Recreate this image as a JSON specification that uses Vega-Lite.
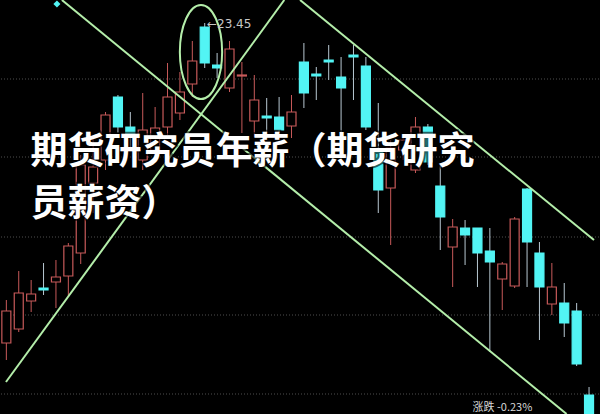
{
  "$schema": "https://vega.github.io/schema/vega-lite/v6.json",
  "width": 600,
  "height": 414,
  "autosize": {"type": "fit", "contains": "padding"},
  "padding": 0,
  "background": "#000000",
  "config": {"view": {"stroke": null}},
  "datasets": {
    "candles": [
      {"k": -1, "o": 17.05, "c": 17.69, "h": 17.91, "l": 16.71},
      {"k": 0, "o": 17.33, "c": 18.05, "h": 18.49, "l": 17.27},
      {"k": 1, "o": 17.89, "c": 18.03, "h": 18.31, "l": 17.67},
      {"k": 2, "o": 18.15, "c": 18.11, "h": 18.65, "l": 18.01},
      {"k": 3, "o": 18.27, "c": 18.37, "h": 18.71, "l": 17.75},
      {"k": 4, "o": 18.39, "c": 18.99, "h": 19.05, "l": 17.97},
      {"k": 5, "o": 18.85, "c": 20.61, "h": 20.81, "l": 18.63},
      {"k": 6, "o": 20.25, "c": 20.57, "h": 21.21, "l": 19.65},
      {"k": 7, "o": 20.71, "c": 21.61, "h": 21.67, "l": 20.51},
      {"k": 8, "o": 21.97, "c": 21.37, "h": 22.01, "l": 21.25},
      {"k": 9, "o": 21.37, "c": 21.17, "h": 21.67, "l": 20.91},
      {"k": 10, "o": 20.71, "c": 21.31, "h": 22.05, "l": 20.51},
      {"k": 11, "o": 20.91, "c": 21.35, "h": 21.77, "l": 20.71},
      {"k": 12, "o": 21.37, "c": 21.97, "h": 22.65, "l": 21.21},
      {"k": 13, "o": 21.65, "c": 22.07, "h": 22.47, "l": 21.51},
      {"k": 14, "o": 22.23, "c": 22.69, "h": 23.09, "l": 21.97},
      {"k": 15, "o": 23.37, "c": 22.65, "h": 23.45, "l": 22.55},
      {"k": 16, "o": 22.61, "c": 22.55, "h": 22.85, "l": 22.35},
      {"k": 17, "o": 22.15, "c": 22.93, "h": 23.09, "l": 22.07},
      {"k": 18, "o": 22.39, "c": 22.41, "h": 22.67, "l": 21.25},
      {"k": 19, "o": 21.49, "c": 21.91, "h": 22.41, "l": 21.17},
      {"k": 20, "o": 21.59, "c": 21.55, "h": 21.95, "l": 21.17},
      {"k": 21, "o": 21.57, "c": 21.31, "h": 21.97, "l": 21.25},
      {"k": 22, "o": 21.39, "c": 21.67, "h": 22.01, "l": 21.15},
      {"k": 23, "o": 22.67, "c": 22.05, "h": 23.05, "l": 21.75},
      {"k": 24, "o": 22.43, "c": 22.39, "h": 22.57, "l": 21.91},
      {"k": 25, "o": 22.71, "c": 22.67, "h": 23.01, "l": 22.31},
      {"k": 26, "o": 22.37, "c": 22.15, "h": 22.77, "l": 21.25},
      {"k": 27, "o": 22.81, "c": 22.77, "h": 23.01, "l": 21.91},
      {"k": 28, "o": 22.59, "c": 21.37, "h": 22.77, "l": 21.31},
      {"k": 29, "o": 20.91, "c": 20.11, "h": 21.85, "l": 19.65},
      {"k": 30, "o": 20.15, "c": 20.95, "h": 21.11, "l": 19.01},
      {"k": 31, "o": 20.91, "c": 21.11, "h": 21.21, "l": 20.71},
      {"k": 32, "o": 20.51, "c": 21.37, "h": 21.57, "l": 20.45},
      {"k": 33, "o": 21.37, "c": 20.67, "h": 21.43, "l": 20.61},
      {"k": 34, "o": 20.19, "c": 19.57, "h": 20.65, "l": 18.91},
      {"k": 35, "o": 18.97, "c": 19.37, "h": 19.53, "l": 18.17},
      {"k": 36, "o": 19.35, "c": 19.21, "h": 19.51, "l": 18.61},
      {"k": 37, "o": 19.35, "c": 18.85, "h": 19.35, "l": 18.17},
      {"k": 38, "o": 18.89, "c": 18.67, "h": 19.35, "l": 16.87},
      {"k": 39, "o": 18.33, "c": 18.63, "h": 18.67, "l": 17.71},
      {"k": 40, "o": 18.19, "c": 19.53, "h": 19.57, "l": 18.15},
      {"k": 41, "o": 20.13, "c": 19.07, "h": 20.15, "l": 18.17},
      {"k": 42, "o": 18.85, "c": 18.17, "h": 19.07, "l": 17.11},
      {"k": 43, "o": 17.83, "c": 18.17, "h": 18.65, "l": 17.61},
      {"k": 44, "o": 17.85, "c": 17.45, "h": 18.25, "l": 17.17},
      {"k": 45, "o": 17.69, "c": 16.63, "h": 17.85, "l": 16.59},
      {"k": 46, "o": 16.01, "c": 15.51, "h": 16.17, "l": 15.51}
    ],
    "trend": [
      {"line": "A", "k": 3.48, "p": 23.91},
      {"line": "A", "k": 44.19, "p": 15.63},
      {"line": "B", "k": 22.69, "p": 23.91},
      {"line": "B", "k": 46.4, "p": 19.11},
      {"line": "C", "k": -1.03, "p": 16.27},
      {"line": "C", "k": 21.42, "p": 23.91}
    ],
    "grid": [{"p": 22.33}, {"p": 20.77}, {"p": 19.17}, {"p": 17.61}, {"p": 16.03}],
    "titles": [
      {"k": 0.95, "p": 20.85, "t": "期货研究员年薪（期货研究"},
      {"k": 0.95, "p": 19.81, "t": "员薪资）"}
    ]
  },
  "layer": [
    {
      "data": {"name": "grid"},
      "mark": {"type": "rule", "color": "#4e4e4e", "strokeWidth": 1, "strokeDash": [1, 2]},
      "encoding": {
        "y": {"field": "p", "type": "quantitative", "scale": {"domain": [15.63, 23.91], "nice": false, "zero": false}, "axis": null}
      }
    },
    {
      "data": {"name": "candles"},
      "mark": {"type": "rule", "strokeWidth": 1, "clip": true},
      "encoding": {
        "x": {"field": "k", "type": "quantitative", "scale": {"domain": [-1.028, 46.4], "nice": false, "zero": false}, "axis": null},
        "y": {"field": "l", "type": "quantitative", "scale": {"domain": [15.63, 23.91], "nice": false, "zero": false}, "axis": null},
        "y2": {"field": "h"},
        "color": {"condition": {"test": "datum.c > datum.o", "value": "#c85a5a"}, "value": "#b8c8d2"}
      }
    },
    {
      "data": {"name": "candles"},
      "mark": {"type": "bar", "width": 9, "strokeWidth": 1.2, "clip": true},
      "encoding": {
        "x": {"field": "k", "type": "quantitative", "scale": {"domain": [-1.028, 46.4], "nice": false, "zero": false}, "axis": null},
        "y": {"field": "o", "type": "quantitative", "scale": {"domain": [15.63, 23.91], "nice": false, "zero": false}, "axis": null},
        "y2": {"field": "c"},
        "fill": {"condition": {"test": "datum.c > datum.o", "value": "#000000"}, "value": "#52f4f4"},
        "stroke": {"condition": {"test": "datum.c > datum.o", "value": "#c85a5a"}, "value": "#52f4f4"}
      }
    },
    {
      "data": {"name": "trend"},
      "mark": {"type": "line", "color": "#b4eeaa", "strokeWidth": 2, "clip": true},
      "encoding": {
        "x": {"field": "k", "type": "quantitative", "scale": {"domain": [-1.028, 46.4], "nice": false, "zero": false}, "axis": null},
        "y": {"field": "p", "type": "quantitative", "scale": {"domain": [15.63, 23.91], "nice": false, "zero": false}, "axis": null},
        "detail": {"field": "line"}
      }
    },
    {
      "data": {"values": [{"k": 14.7, "p": 22.87}]},
      "mark": {"type": "point", "shape": "M -0.45 0 A 0.45 1 0 1 0 0.45 0 A 0.45 1 0 1 0 -0.45 0 Z", "size": 8836, "filled": false, "stroke": "#b4eeaa", "strokeWidth": 2, "opacity": 1},
      "encoding": {
        "x": {"field": "k", "type": "quantitative", "scale": {"domain": [-1.028, 46.4], "nice": false, "zero": false}, "axis": null},
        "y": {"field": "p", "type": "quantitative", "scale": {"domain": [15.63, 23.91], "nice": false, "zero": false}, "axis": null}
      }
    },
    {
      "data": {"values": [{"k": 3.08, "p": 23.83}]},
      "mark": {"type": "point", "shape": "diamond", "size": 50, "filled": true, "color": "#52f4f4", "opacity": 1},
      "encoding": {
        "x": {"field": "k", "type": "quantitative", "scale": {"domain": [-1.028, 46.4], "nice": false, "zero": false}, "axis": null},
        "y": {"field": "p", "type": "quantitative", "scale": {"domain": [15.63, 23.91], "nice": false, "zero": false}, "axis": null}
      }
    },
    {
      "data": {"values": [{"k": 15.18, "p": 23.43, "t": "←23.45"}]},
      "mark": {"type": "text", "align": "left", "baseline": "middle", "fontSize": 12, "font": "DejaVu Sans", "color": "#c8c8c8"},
      "encoding": {
        "x": {"field": "k", "type": "quantitative", "scale": {"domain": [-1.028, 46.4], "nice": false, "zero": false}, "axis": null},
        "y": {"field": "p", "type": "quantitative", "scale": {"domain": [15.63, 23.91], "nice": false, "zero": false}, "axis": null},
        "text": {"field": "t"}
      }
    },
    {
      "data": {"values": [{"k": 36.6, "p": 15.66, "t": "涨跌 -0.23%"}]},
      "mark": {"type": "text", "align": "left", "baseline": "bottom", "fontSize": 11, "font": "Noto Sans CJK SC", "color": "#d8d8d8"},
      "encoding": {
        "x": {"field": "k", "type": "quantitative", "scale": {"domain": [-1.028, 46.4], "nice": false, "zero": false}, "axis": null},
        "y": {"field": "p", "type": "quantitative", "scale": {"domain": [15.63, 23.91], "nice": false, "zero": false}, "axis": null},
        "text": {"field": "t"}
      }
    },
    {
      "data": {"name": "titles"},
      "mark": {"type": "text", "align": "left", "baseline": "middle", "fontSize": 37, "fontWeight": "bold", "font": "Noto Sans CJK SC", "color": "#000000", "stroke": "#000000", "strokeWidth": 4, "opacity": 0.6},
      "encoding": {
        "x": {"field": "k", "type": "quantitative", "scale": {"domain": [-1.028, 46.4], "nice": false, "zero": false}, "axis": null},
        "y": {"field": "p", "type": "quantitative", "scale": {"domain": [15.63, 23.91], "nice": false, "zero": false}, "axis": null},
        "text": {"field": "t"}
      }
    },
    {
      "data": {"name": "titles"},
      "mark": {"type": "text", "align": "left", "baseline": "middle", "fontSize": 37, "fontWeight": "bold", "font": "Noto Sans CJK SC", "color": "#ffffff"},
      "encoding": {
        "x": {"field": "k", "type": "quantitative", "scale": {"domain": [-1.028, 46.4], "nice": false, "zero": false}, "axis": null},
        "y": {"field": "p", "type": "quantitative", "scale": {"domain": [15.63, 23.91], "nice": false, "zero": false}, "axis": null},
        "text": {"field": "t"}
      }
    }
  ]
}
